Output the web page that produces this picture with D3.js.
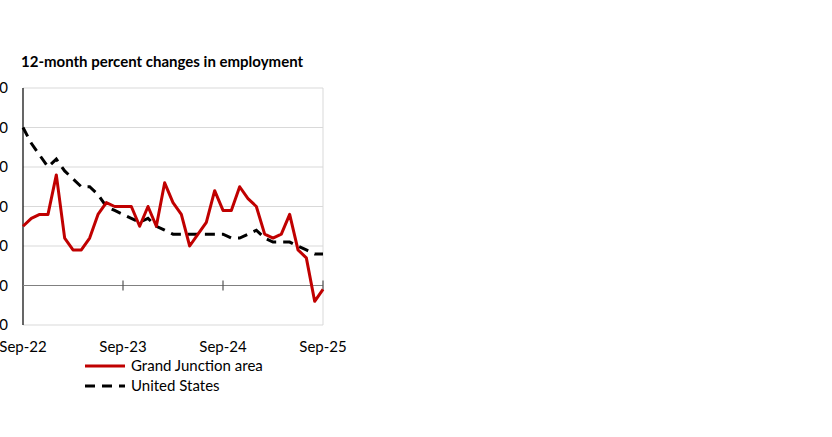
<!DOCTYPE html>
<html>
<head>
<meta charset="utf-8">
<script src="https://cdn.jsdelivr.net/npm/d3@7"></script>
<style>
body { margin: 0; background: #fff; }
text { font-family: Lato, "Open Sans", sans-serif; }
</style>
</head>
<body>
<div class="viz"></div>
<script>
var grandJunction = [1.5, 1.7, 1.8, 1.8, 2.8, 1.2, 0.9, 0.9, 1.2, 1.8, 2.1, 2.0, 2.0, 2.0, 1.5, 2.0, 1.5, 2.6, 2.1, 1.8,
                     1.0, 1.3, 1.6, 2.4, 1.9, 1.9, 2.5, 2.2, 2.0, 1.3, 1.2, 1.3, 1.8, 0.9, 0.7, -0.4, -0.1];
var unitedStates = [4.0, 3.6, 3.3, 3.0, 3.2, 2.9, 2.7, 2.5, 2.5, 2.3, 2.0, 1.9, 1.8, 1.7, 1.6, 1.7, 1.5, 1.4, 1.3, 1.3,
                    1.3, 1.3, 1.3, 1.3, 1.3, 1.2, 1.2, 1.3, 1.4, 1.2, 1.1, 1.1, 1.1, 1.0, 0.9, 0.8, 0.8];
var yTicks = [-1, 0, 1, 2, 3, 4, 5];
var xTickLabels = ["Sep-22", "Sep-23", "Sep-24", "Sep-25"];

var w = 832, h = 437;
var plotLeft = 23, plotRight = 323, plotTop = 88, plotBottom = 325;

var svg = d3.select(".viz").append("svg").attr("width", w).attr("height", h);

var xScale = d3.scaleLinear().domain([0, 36]).range([plotLeft, plotRight]);
var yScale = d3.scaleLinear().domain([-1, 5]).range([plotBottom, plotTop]);

// gridlines
svg.selectAll(".grid")
    .data(yTicks.filter(function(d) { return d !== 0; }))
    .enter().append("line")
    .attr("x1", plotLeft).attr("x2", plotRight)
    .attr("y1", function(d) { return yScale(d); })
    .attr("y2", function(d) { return yScale(d); })
    .attr("stroke", "#d9d9d9").attr("stroke-width", 1);

svg.append("line")
    .attr("x1", plotRight).attr("x2", plotRight).attr("y1", plotTop).attr("y2", plotBottom)
    .attr("stroke", "#d9d9d9");

// y labels (overflow off the left edge as in the original)
svg.selectAll(".ylab")
    .data(yTicks)
    .enter().append("text")
    .attr("x", 8)
    .attr("y", function(d) { return yScale(d) + 5; })
    .attr("text-anchor", "end")
    .attr("font-size", "15px")
    .text(function(d) { return d.toFixed(1); });

// left axis
svg.append("line")
    .attr("x1", plotLeft).attr("x2", plotLeft).attr("y1", plotTop).attr("y2", plotBottom)
    .attr("stroke", "#000").attr("stroke-width", 1.2);

// zero line with ticks
svg.append("line")
    .attr("x1", plotLeft).attr("x2", plotRight).attr("y1", yScale(0)).attr("y2", yScale(0))
    .attr("stroke", "#808080").attr("stroke-width", 1.2);
svg.selectAll(".xtick")
    .data([12, 24, 36])
    .enter().append("line")
    .attr("x1", function(d) { return xScale(d); })
    .attr("x2", function(d) { return xScale(d); })
    .attr("y1", yScale(0) - 5).attr("y2", yScale(0) + 5)
    .attr("stroke", "#555").attr("stroke-width", 1.2);

svg.selectAll(".xlab")
    .data(xTickLabels)
    .enter().append("text")
    .attr("x", function(d, i) { return xScale(i * 12); })
    .attr("y", 352)
    .attr("text-anchor", "middle")
    .attr("font-size", "15px")
    .text(function(d) { return d; });

var line = d3.line()
    .x(function(d, i) { return xScale(i); })
    .y(function(d) { return yScale(d); });

svg.append("path").datum(unitedStates)
    .attr("d", line).attr("fill", "none")
    .attr("stroke", "#000").attr("stroke-width", 3)
    .attr("stroke-dasharray", "10,7");

svg.append("path").datum(grandJunction)
    .attr("d", line).attr("fill", "none")
    .attr("stroke", "#c00000").attr("stroke-width", 3)
    .attr("stroke-linejoin", "round");

// title
svg.append("text")
    .attr("x", 21).attr("y", 67)
    .attr("font-size", "15px").attr("font-weight", "bold")
    .text("12-month percent changes in employment");

// legend
var legend = [
    { name: "Grand Junction area", color: "#c00000", dash: null },
    { name: "United States", color: "#000", dash: "10,7" }
];
legend.forEach(function(l, i) {
    var y = 366 + i * 20;
    svg.append("line")
        .attr("x1", 85).attr("x2", 125).attr("y1", y).attr("y2", y)
        .attr("stroke", l.color).attr("stroke-width", 3)
        .attr("stroke-dasharray", l.dash);
    svg.append("text")
        .attr("x", 131).attr("y", y + 5)
        .attr("font-size", "15px")
        .text(l.name);
});
</script>
</body>
</html>
